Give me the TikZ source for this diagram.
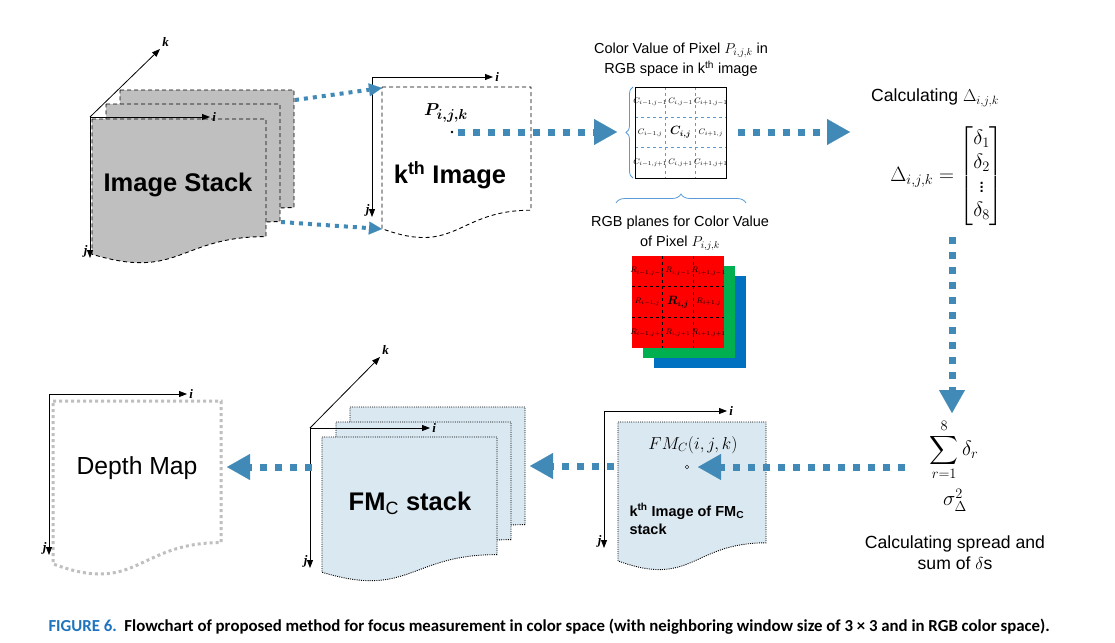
\documentclass[tikz,border=0pt]{standalone}
\usepackage{fontspec}
\setmainfont{Liberation Sans}
\newfontfamily\axisfont{Liberation Serif}
\newfontfamily\capfont{Carlito}
\usepackage{amssymb}
\usepackage{amsmath}
\usetikzlibrary{arrows.meta,decorations.pathreplacing}

\definecolor{flowblue}{RGB}{65,137,182}
\definecolor{stackgray}{RGB}{191,191,191}
\definecolor{fmblue}{RGB}{218,232,241}
\definecolor{gridblue}{RGB}{91,155,213}
\definecolor{capblue}{RGB}{30,115,190}
\definecolor{rgbgreen}{RGB}{0,176,80}
\definecolor{rgbblue}{RGB}{0,112,192}

\tikzset{
  flow/.style={draw=flowblue,line width=7pt,dash pattern=on 7pt off 8pt,
    -{Triangle[length=23pt,width=26pt,line width=0.1pt]}},
  thinflow/.style={draw=flowblue,line width=4pt,dash pattern=on 4pt off 5pt,
    -{Triangle[length=13pt,width=13pt,line width=0.1pt]}},
  axis/.style={draw,line width=0.8pt,-{Triangle[length=8pt,width=6pt]}},
  axlabel/.style={font=\axisfont\bfseries\itshape\fontsize{13}{13}\selectfont,inner sep=2pt},
  cell/.style={font=\fontsize{8.2}{8}\selectfont,inner sep=0pt},
  caption/.style={font=\fontsize{14.5}{20}\selectfont,align=center},
  sidetext/.style={font=\fontsize{17.6}{21}\selectfont,align=center},
  bigtext/.style={font=\bfseries\fontsize{25.5}{26}\selectfont},
  dashsheet/.style={draw,line width=0.9pt,dash pattern=on 4pt off 3pt},
  dotsheet/.style={draw,line width=0.9pt,dash pattern=on 1pt off 1.2pt,fill=fmblue},
}

\newcommand\cellidx[2]{\ifnum#2<0 #1-1\else\ifnum#2>0 #1+1\else #1\fi\fi}
\newcommand\celltext[3]{\ifnum#2=0 \ifnum#3=0 \fontsize{12}{12}\selectfont$\boldsymbol{#1_{i,j}}$\else$#1_{\cellidx{i}{#2},\cellidx{j}{#3}}$\fi\else$#1_{\cellidx{i}{#2},\cellidx{j}{#3}}$\fi}

\begin{document}
\begin{tikzpicture}[x=1pt,y=-1pt]
\useasboundingbox (0,0) rectangle (1115,642);
\newcommand\docsheet[5]{
\path[#5] (#1,#2) -- ({#1+#3},#2) -- ({#1+#3},{#2+0.8*#4})
  .. controls ({#1+0.5*#3},{#2+0.8*#4}) and ({#1+0.5*#3},{#2+1.1*#4}) .. (#1,{#2+0.92*#4}) -- cycle;
}
\newcommand\ijaxes[5]{
\coordinate (#1o) at (#2,#3);
\coordinate (#1i) at ({#2+#4},#3);
\coordinate (#1j) at (#2,{#3+#5});
\path[axis] (#1o) -- (#1i) node[axlabel,right] (#1il) {i};
\path[axis] (#1o) -- (#1j) node[axlabel,left,yshift=7pt] (#1jl) {j};
}

% image stack
\docsheet{120}{90}{174}{147}{dashsheet,fill=stackgray}
\docsheet{106}{104}{174}{147}{dashsheet,fill=stackgray}
\docsheet{92}{119}{174}{147}{dashsheet,fill=stackgray}
\ijaxes{st}{90}{117}{120}{141}
\coordinate (stk) at (160,49);
\path[axis] (sto) -- (stk) node[axlabel,above right] (stkl) {k};
\node[bigtext] (stack) at (178,185) {Image Stack};

% k-th image
\docsheet{382}{87}{149}{154}{dashsheet}
\ijaxes{im}{372}{77}{121}{140}
\node[bigtext] (kimg) at (450,175) {k\textsuperscript{th} Image};
\node[circle,fill,inner sep=1pt] (p) at (452,132) {};
\node[font=\fontsize{19}{19}\selectfont,anchor=south] (plabel) at (446,126) {$\boldsymbol{P_{i,j,k}}$};

% colour window
\node[caption] (gridtitle) at (681,60) {Color Value of Pixel $P_{i,j,k}$ in\\RGB space in k\textsuperscript{th} image};
\foreach \t in {1,2} {
  \path[draw=gridblue,dashed,thick] ({635+30.33*\t},87) -- ({635+30.33*\t},178);
  \path[draw=gridblue,dashed,thick] (635,{87+30.33*\t}) -- (726,{87+30.33*\t});
}
\node[draw,thick,minimum size=91pt,inner sep=0pt] (grid) at (680.5,132.5) {};
\foreach \a in {-1,0,1}
  \foreach \b in {-1,0,1}
    \node[cell] (c\a\b) at ({680.5+30.33*\a},{132.5+30.33*\b}) {\celltext{C}{\a}{\b}};
\path[draw=gridblue,thick,decorate,decoration={brace,amplitude=7pt}] (633,178) -- (633,87);
\path[draw=gridblue,thick,decorate,decoration={brace,amplitude=9pt}] (616,203) -- (746,203);

% rgb planes
\node[caption] (rgbtitle) at (680,233) {RGB planes for Color Value\\of Pixel $P_{i,j,k}$};
\node[fill=rgbblue,minimum size=92pt,inner sep=0pt] (bplane) at (699.5,322) {};
\node[fill=rgbgreen,minimum size=92pt,inner sep=0pt] (gplane) at (689,312) {};
\node[fill=red,minimum size=92pt,inner sep=0pt] (rplane) at (678,302) {};
\foreach \t in {1,2} {
  \path[draw,dashed,thick] ({632+30.67*\t},256) -- ({632+30.67*\t},348);
  \path[draw,dashed,thick] (632,{256+30.67*\t}) -- (724,{256+30.67*\t});
}
\foreach \a in {-1,0,1}
  \foreach \b in {-1,0,1}
    \node[cell] (r\a\b) at ({678+30.67*\a},{302+30.67*\b}) {\celltext{R}{\a}{\b}};

% delta vector
\node[sidetext] (calc) at (935,98) {Calculating $\Delta_{i,j,k}$};
\node[font=\fontsize{20.5}{24}\selectfont] (delta) at (947,176)
  {$\Delta_{i,j,k}=\begin{bmatrix}\delta_1\\\delta_2\\\vdots\\\delta_8\end{bmatrix}$};

% spread and sum
\node[font=\fontsize{20}{20}\selectfont] (sum) at (954,450) {$\displaystyle\sum_{r=1}^{8}\delta_r$};
\node[font=\fontsize{20}{20}\selectfont] (sigma) at (955,500) {$\sigma_{\Delta}^{2}$};
\node[sidetext] (spread) at (955,553) {Calculating spread and\\sum of $\delta$s};

% k-th image of FMc
\docsheet{618}{422}{148}{151}{dotsheet}
\ijaxes{fi}{604}{411}{123}{137}
\node[font=\fontsize{17}{17}\selectfont] (fmval) at (693,445) {$FM_C(i,j,k)$};
\node[circle,draw,inner sep=1.3pt] (q) at (687,467) {};
\node[font=\bfseries\fontsize{14.5}{18}\selectfont,align=left,anchor=north west] (fmtext) at (626,500)
  {k\textsuperscript{th} Image of FM\textsubscript{C}\\stack};

% FMc stack
\docsheet{350}{407}{175}{147}{dotsheet}
\docsheet{336}{422}{175}{147}{dotsheet}
\docsheet{322}{437}{175}{147}{dotsheet}
\ijaxes{fs}{310}{428}{120}{140}
\coordinate (fsk) at (380,357);
\path[axis] (fso) -- (fsk) node[axlabel,above right] (fskl) {k};
\node[bigtext] (fmstack) at (410,503) {FM{\mdseries\textsubscript{C}} stack};

% depth map
\docsheet{53}{401}{168}{177}{draw=stackgray,line width=3pt,dash pattern=on 3pt off 3pt}
\ijaxes{dm}{49}{394}{138}{161}
\node[font=\fontsize{24.7}{25}\selectfont] (depth) at (137,468) {Depth Map};

% flow arrows
\coordinate (s1) at (295,100);
\coordinate (s2) at (281,222);
\coordinate (k1) at (382,88);
\coordinate (k2) at (382,229);
\path[thinflow] (s1) -- (k1);
\path[thinflow] (s2) -- (k2);
\coordinate (pout) at (458,132);
\coordinate (gin) at (617,132);
\coordinate (gout) at (738,132);
\coordinate (din) at (850,132);
\coordinate (dout) at (952,237);
\coordinate (sin) at (952,413);
\coordinate (sout) at (905,467);
\coordinate (qin) at (698,467);
\coordinate (fout) at (614,466);
\coordinate (fin) at (530,466);
\coordinate (mout) at (312,467);
\coordinate (min) at (227,467);
\path[flow] (pout) -- (gin);
\path[flow] (gout) -- (din);
\path[flow] (dout) -- (sin);
\path[flow] (sout) -- (qin);
\path[flow] (fout) -- (fin);
\path[flow] (mout) -- (min);

\node[font=\capfont\bfseries\fontsize{16.8}{16.8}\selectfont,anchor=base west] (figcap) at (45,631)
  {\textcolor{capblue}{FIGURE 6.}\ \ Flowchart of proposed method for focus measurement in color space (with neighboring window size of 3 × 3 and in RGB color space).};
\end{tikzpicture}
\end{document}
